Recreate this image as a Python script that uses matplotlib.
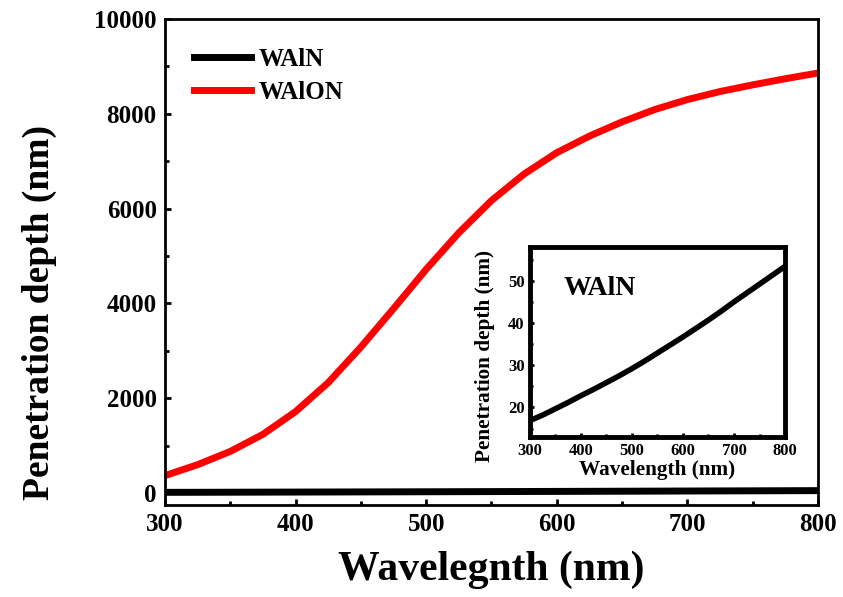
import matplotlib.pyplot as plt
from matplotlib.ticker import MultipleLocator

# wavelength grid (nm) and penetration depth (nm) for the two films
wavelength = [300, 325, 350, 375, 400, 425, 450, 475, 500, 525, 550,
              575, 600, 625, 650, 675, 700, 725, 750, 775, 800]
depth_waion = [370, 600, 880, 1240, 1720, 2330, 3080, 3890, 4720, 5490, 6170,
               6730, 7180, 7530, 7830, 8090, 8300, 8470, 8610, 8740, 8860]
depth_wain = [16.9, 18.2, 19.7, 21.2, 22.8, 24.3, 25.9, 27.5, 29.2, 31.0, 32.9,
              34.8, 36.7, 38.7, 40.7, 42.8, 45.0, 47.1, 49.2, 51.3, 53.4]

plt.rcParams['font.family'] = ['Liberation Serif', 'DejaVu Serif']
plt.rcParams['font.weight'] = 'bold'
plt.rcParams['axes.labelweight'] = 'bold'

fig = plt.figure(figsize=(8.43, 5.97), dpi=100)

# main plot
ax = fig.add_axes([0.1957, 0.1541, 0.7746, 0.8141])
ax.plot(wavelength, depth_wain, color='black', lw=5, label='WAlN',
        solid_joinstyle='round')
ax.plot(wavelength, depth_waion, color='#ff0000', lw=5, label='WAlON',
        solid_joinstyle='round')
ax.set_xlim(300, 800)
ax.set_ylim(-250, 10000)
ax.xaxis.set_major_locator(MultipleLocator(100))
ax.xaxis.set_minor_locator(MultipleLocator(50))
ax.yaxis.set_major_locator(MultipleLocator(2000))
ax.yaxis.set_minor_locator(MultipleLocator(1000))
ax.tick_params(which='both', direction='in', width=2, labelsize=18, pad=6)
ax.tick_params(which='major', length=4)
ax.tick_params(which='minor', length=3)
for s in ax.spines.values():
    s.set_linewidth(2)
ax.set_xlabel('Wavelegnth (nm)', fontsize=30, labelpad=10)
ax.set_ylabel('Penetration depth (nm)', fontsize=27)
ax.yaxis.set_label_coords(-0.166, 0.397)
ax.legend(loc='upper left', frameon=False, handlelength=2.3,
          handletextpad=0.3, labelspacing=0.4, borderaxespad=0.75,
          prop={'weight': 'bold', 'size': 18})

# inset with WAlN only
ins = fig.add_axes([0.6287, 0.268, 0.3025, 0.3183])
ins.plot(wavelength, depth_wain, color='black', lw=4, solid_joinstyle='round')
ins.set_xlim(300, 800)
ins.set_ylim(13, 58)
ins.xaxis.set_major_locator(MultipleLocator(100))
ins.xaxis.set_minor_locator(MultipleLocator(50))
ins.yaxis.set_major_locator(MultipleLocator(10))
ins.yaxis.set_minor_locator(MultipleLocator(5))
ins.tick_params(which='both', direction='in', width=2, labelsize=12, pad=4)
ins.tick_params(which='major', length=3)
ins.tick_params(which='minor', length=2)
for s in ins.spines.values():
    s.set_linewidth(3.5)
ins.set_xlabel('Wavelength (nm)', fontsize=15.3, labelpad=1)
ins.set_ylabel('Penetration depth (nm)', fontsize=15.3)
ins.yaxis.set_label_coords(-0.137, 0.426)
ins.text(0.13, 0.78, 'WAlN', transform=ins.transAxes, fontsize=20,
         fontweight='bold', va='center')

fig.savefig('out.png', dpi=100)
